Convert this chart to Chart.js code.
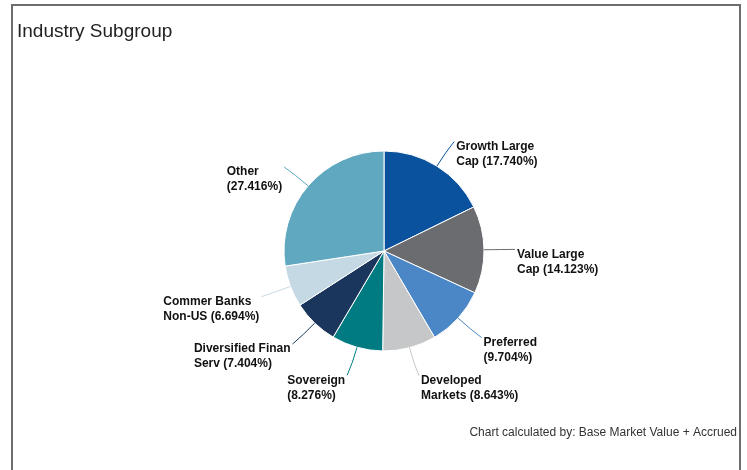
<!DOCTYPE html>
<html>
<head>
<meta charset="utf-8">
<script src="https://cdn.jsdelivr.net/npm/chart.js@4"></script>
<style>
  body { margin: 0; background: #fff; }
  canvas { display: block; }
</style>
</head>
<body>
<canvas id="subgroupChart" width="747" height="470"></canvas>
<script>
// Industry subgroup weights (%), clockwise from 12 o'clock
const categories = ['Growth Large\nCap', 'Value Large\nCap', 'Preferred', 'Developed\nMarkets',
    'Sovereign', 'Diversified Finan\nServ', 'Commer Banks\nNon-US', 'Other'];
const weights = [17.740, 14.123, 9.704, 8.643, 8.276, 7.404, 6.694, 27.416];
const sliceColors = ['#0a529e', '#6b6c70', '#4b86c6', '#c6c7c9', '#007b82', '#1b365d', '#c5d9e5', '#5fa8c0'];

const titleText = 'Industry Subgroup';
const footerText = 'Chart calculated by: Base Market Value + Accrued';

// frame, title, footer
const framePlugin = {
    id: 'frame',
    beforeDraw(chart) {
        const c = chart.ctx;
        c.save();
        c.strokeStyle = '#6d6d6d';
        c.lineWidth = 2;
        c.beginPath();
        c.moveTo(12, 480);
        c.lineTo(12, 5);
        c.lineTo(740, 5);
        c.lineTo(740, 480);
        c.stroke();

        c.fillStyle = '#222';
        c.font = '19px "Liberation Sans", Arial, sans-serif';
        c.textBaseline = 'alphabetic';
        c.textAlign = 'left';
        c.fillText(titleText, 17, 37);

        c.fillStyle = '#333';
        c.font = '12px "Liberation Sans", Arial, sans-serif';
        c.textAlign = 'right';
        c.fillText(footerText, 737, 436);
        c.restore();
    }
};

// data labels with curved connectors
const labelPlugin = {
    id: 'sliceLabels',
    afterDatasetsDraw(chart) {
        const c = chart.ctx;
        const arcs = chart.getDatasetMeta(0).data;
        c.save();
        c.font = 'bold 12px "Liberation Sans", Arial, sans-serif';
        c.textBaseline = 'middle';
        arcs.forEach((arc, i) => {
            const p = arc.getProps(['x', 'y', 'startAngle', 'endAngle', 'outerRadius']);
            const mid = (p.startAngle + p.endAngle) / 2;
            const dx = Math.cos(mid), dy = Math.sin(mid);
            const side = dx >= 0 ? 1 : -1;
            const r = p.outerRadius;
            const x0 = p.x + r * dx, y0 = p.y + r * dy;
            const cx = p.x + (r + 17) * dx, cy = p.y + (r + 17) * dy;
            const x1 = p.x + (r + 29) * dx + side * 2, y1 = p.y + (r + 29) * dy;

            c.strokeStyle = sliceColors[i];
            c.lineWidth = 1;
            c.beginPath();
            c.moveTo(x0, y0);
            c.quadraticCurveTo(cx, cy, x1, y1);
            c.stroke();

            const pct = '(' + weights[i].toFixed(3) + '%)';
            const lines = categories[i].split('\n');
            if (lines.length > 1) lines[lines.length - 1] += ' ' + pct;
            else lines.push(pct);

            const blockW = Math.max(...lines.map(l => c.measureText(l).width));
            const left = side > 0 ? x1 + 2 : x1 - 2 - blockW;
            c.fillStyle = '#111';
            c.textAlign = 'left';
            lines.forEach((l, k) => c.fillText(l, left, y1 + 5 + k * 15));
        });
        c.restore();
    }
};

new Chart(document.getElementById('subgroupChart').getContext('2d'), {
    type: 'pie',
    data: {
        labels: categories,
        datasets: [{
            data: weights,
            backgroundColor: sliceColors,
            borderColor: '#ffffff',
            borderWidth: 1
        }]
    },
    options: {
        responsive: false,
        animation: false,
        devicePixelRatio: 1,
        radius: 100,
        layout: {
            padding: { left: 21, right: 0, top: 32, bottom: 0 }
        },
        plugins: {
            legend: { display: false },
            tooltip: { enabled: false },
            title: { display: false }
        }
    },
    plugins: [framePlugin, labelPlugin]
});
</script>
</body>
</html>
